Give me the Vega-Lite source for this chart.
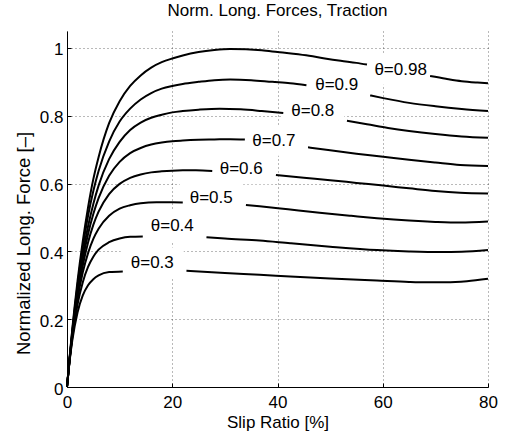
{
  "$schema": "https://vega.github.io/schema/vega-lite/v6.json",
  "width": 421,
  "height": 356,
  "autosize": {"type": "none"},
  "padding": {"left": 67, "top": 31, "right": 22, "bottom": 46},
  "background": "white",
  "title": {"text": "Norm. Long. Forces, Traction", "fontSize": 17, "fontWeight": "normal", "font": "Liberation Sans", "color": "black", "offset": 11, "anchor": "middle"},
  "config": {
    "font": "Liberation Sans",
    "view": {"stroke": null},
    "axis": {
      "domainColor": "black", "domainWidth": 1,
      "tickColor": "black", "tickWidth": 1, "tickSize": -4,
      "labelColor": "black", "labelFontSize": 17, "labelFont": "Liberation Sans",
      "titleColor": "black", "titleFontSize": 17, "titleFontWeight": "normal", "titleFont": "Liberation Sans",
      "grid": true, "gridColor": "#000000", "gridOpacity": 0.55, "gridDash": [1, 3], "gridWidth": 1,
      "labelFlush": false, "labelOverlap": false
    }
  },
  "datasets": {
    "curves": [
      {"curve": "0.98", "part": 1, "slip": 0, "force": 0},
      {"curve": "0.98", "part": 1, "slip": 0.5, "force": 0.088},
      {"curve": "0.98", "part": 1, "slip": 1, "force": 0.17},
      {"curve": "0.98", "part": 1, "slip": 2, "force": 0.312},
      {"curve": "0.98", "part": 1, "slip": 3, "force": 0.43},
      {"curve": "0.98", "part": 1, "slip": 4, "force": 0.53},
      {"curve": "0.98", "part": 1, "slip": 5, "force": 0.613},
      {"curve": "0.98", "part": 1, "slip": 6, "force": 0.678},
      {"curve": "0.98", "part": 1, "slip": 8, "force": 0.778},
      {"curve": "0.98", "part": 1, "slip": 10, "force": 0.843},
      {"curve": "0.98", "part": 1, "slip": 12, "force": 0.888},
      {"curve": "0.98", "part": 1, "slip": 14, "force": 0.919},
      {"curve": "0.98", "part": 1, "slip": 16, "force": 0.942},
      {"curve": "0.98", "part": 1, "slip": 18, "force": 0.958},
      {"curve": "0.98", "part": 1, "slip": 20, "force": 0.969},
      {"curve": "0.98", "part": 1, "slip": 22, "force": 0.978},
      {"curve": "0.98", "part": 1, "slip": 25, "force": 0.988},
      {"curve": "0.98", "part": 1, "slip": 28, "force": 0.994},
      {"curve": "0.98", "part": 1, "slip": 31, "force": 0.997},
      {"curve": "0.98", "part": 1, "slip": 34, "force": 0.996},
      {"curve": "0.98", "part": 1, "slip": 37, "force": 0.993},
      {"curve": "0.98", "part": 1, "slip": 40, "force": 0.988},
      {"curve": "0.98", "part": 1, "slip": 43, "force": 0.983},
      {"curve": "0.98", "part": 1, "slip": 46, "force": 0.977},
      {"curve": "0.98", "part": 1, "slip": 49, "force": 0.969},
      {"curve": "0.98", "part": 1, "slip": 52, "force": 0.962},
      {"curve": "0.98", "part": 1, "slip": 55, "force": 0.956},
      {"curve": "0.98", "part": 1, "slip": 57, "force": 0.951},
      {"curve": "0.98", "part": 2, "slip": 69, "force": 0.917},
      {"curve": "0.98", "part": 2, "slip": 72, "force": 0.909},
      {"curve": "0.98", "part": 2, "slip": 75, "force": 0.902},
      {"curve": "0.98", "part": 2, "slip": 78, "force": 0.898},
      {"curve": "0.98", "part": 2, "slip": 80, "force": 0.896},

      {"curve": "0.9", "part": 1, "slip": 0, "force": 0},
      {"curve": "0.9", "part": 1, "slip": 0.5, "force": 0.086},
      {"curve": "0.9", "part": 1, "slip": 1, "force": 0.165},
      {"curve": "0.9", "part": 1, "slip": 2, "force": 0.3},
      {"curve": "0.9", "part": 1, "slip": 3, "force": 0.413},
      {"curve": "0.9", "part": 1, "slip": 4, "force": 0.505},
      {"curve": "0.9", "part": 1, "slip": 5, "force": 0.578},
      {"curve": "0.9", "part": 1, "slip": 6, "force": 0.637},
      {"curve": "0.9", "part": 1, "slip": 8, "force": 0.724},
      {"curve": "0.9", "part": 1, "slip": 10, "force": 0.783},
      {"curve": "0.9", "part": 1, "slip": 12, "force": 0.821},
      {"curve": "0.9", "part": 1, "slip": 14, "force": 0.848},
      {"curve": "0.9", "part": 1, "slip": 16, "force": 0.867},
      {"curve": "0.9", "part": 1, "slip": 18, "force": 0.88},
      {"curve": "0.9", "part": 1, "slip": 20, "force": 0.888},
      {"curve": "0.9", "part": 1, "slip": 22, "force": 0.894},
      {"curve": "0.9", "part": 1, "slip": 25, "force": 0.9},
      {"curve": "0.9", "part": 1, "slip": 28, "force": 0.905},
      {"curve": "0.9", "part": 1, "slip": 31, "force": 0.907},
      {"curve": "0.9", "part": 1, "slip": 35, "force": 0.905},
      {"curve": "0.9", "part": 1, "slip": 39, "force": 0.9},
      {"curve": "0.9", "part": 1, "slip": 42.4, "force": 0.896},
      {"curve": "0.9", "part": 1, "slip": 45.5, "force": 0.89},
      {"curve": "0.9", "part": 2, "slip": 57.6, "force": 0.86},
      {"curve": "0.9", "part": 2, "slip": 60.1, "force": 0.852},
      {"curve": "0.9", "part": 2, "slip": 65, "force": 0.838},
      {"curve": "0.9", "part": 2, "slip": 70, "force": 0.828},
      {"curve": "0.9", "part": 2, "slip": 75, "force": 0.82},
      {"curve": "0.9", "part": 2, "slip": 80, "force": 0.814},

      {"curve": "0.8", "part": 1, "slip": 0, "force": 0},
      {"curve": "0.8", "part": 1, "slip": 0.5, "force": 0.084},
      {"curve": "0.8", "part": 1, "slip": 1, "force": 0.16},
      {"curve": "0.8", "part": 1, "slip": 2, "force": 0.288},
      {"curve": "0.8", "part": 1, "slip": 3, "force": 0.392},
      {"curve": "0.8", "part": 1, "slip": 4, "force": 0.474},
      {"curve": "0.8", "part": 1, "slip": 5, "force": 0.54},
      {"curve": "0.8", "part": 1, "slip": 6, "force": 0.594},
      {"curve": "0.8", "part": 1, "slip": 8, "force": 0.672},
      {"curve": "0.8", "part": 1, "slip": 10, "force": 0.723},
      {"curve": "0.8", "part": 1, "slip": 12, "force": 0.758},
      {"curve": "0.8", "part": 1, "slip": 14, "force": 0.78},
      {"curve": "0.8", "part": 1, "slip": 16, "force": 0.794},
      {"curve": "0.8", "part": 1, "slip": 18, "force": 0.803},
      {"curve": "0.8", "part": 1, "slip": 20, "force": 0.81},
      {"curve": "0.8", "part": 1, "slip": 22, "force": 0.814},
      {"curve": "0.8", "part": 1, "slip": 25, "force": 0.818},
      {"curve": "0.8", "part": 1, "slip": 29, "force": 0.821},
      {"curve": "0.8", "part": 1, "slip": 33, "force": 0.819},
      {"curve": "0.8", "part": 1, "slip": 37, "force": 0.814},
      {"curve": "0.8", "part": 1, "slip": 41.1, "force": 0.808},
      {"curve": "0.8", "part": 2, "slip": 53.2, "force": 0.785},
      {"curve": "0.8", "part": 2, "slip": 57, "force": 0.775},
      {"curve": "0.8", "part": 2, "slip": 61, "force": 0.764},
      {"curve": "0.8", "part": 2, "slip": 65, "force": 0.755},
      {"curve": "0.8", "part": 2, "slip": 70, "force": 0.746},
      {"curve": "0.8", "part": 2, "slip": 75, "force": 0.739},
      {"curve": "0.8", "part": 2, "slip": 80, "force": 0.735},

      {"curve": "0.7", "part": 1, "slip": 0, "force": 0},
      {"curve": "0.7", "part": 1, "slip": 0.5, "force": 0.083},
      {"curve": "0.7", "part": 1, "slip": 1, "force": 0.157},
      {"curve": "0.7", "part": 1, "slip": 2, "force": 0.281},
      {"curve": "0.7", "part": 1, "slip": 3, "force": 0.376},
      {"curve": "0.7", "part": 1, "slip": 4, "force": 0.451},
      {"curve": "0.7", "part": 1, "slip": 5, "force": 0.51},
      {"curve": "0.7", "part": 1, "slip": 6, "force": 0.557},
      {"curve": "0.7", "part": 1, "slip": 8, "force": 0.623},
      {"curve": "0.7", "part": 1, "slip": 10, "force": 0.664},
      {"curve": "0.7", "part": 1, "slip": 12, "force": 0.69},
      {"curve": "0.7", "part": 1, "slip": 14, "force": 0.705},
      {"curve": "0.7", "part": 1, "slip": 16, "force": 0.715},
      {"curve": "0.7", "part": 1, "slip": 18, "force": 0.721},
      {"curve": "0.7", "part": 1, "slip": 20, "force": 0.725},
      {"curve": "0.7", "part": 1, "slip": 22, "force": 0.727},
      {"curve": "0.7", "part": 1, "slip": 25, "force": 0.729},
      {"curve": "0.7", "part": 1, "slip": 28, "force": 0.73},
      {"curve": "0.7", "part": 1, "slip": 31, "force": 0.731},
      {"curve": "0.7", "part": 1, "slip": 33.8, "force": 0.73},
      {"curve": "0.7", "part": 2, "slip": 45.8, "force": 0.707},
      {"curve": "0.7", "part": 2, "slip": 50, "force": 0.698},
      {"curve": "0.7", "part": 2, "slip": 55, "force": 0.688},
      {"curve": "0.7", "part": 2, "slip": 60.1, "force": 0.679},
      {"curve": "0.7", "part": 2, "slip": 65, "force": 0.67},
      {"curve": "0.7", "part": 2, "slip": 70, "force": 0.662},
      {"curve": "0.7", "part": 2, "slip": 74.7, "force": 0.655},
      {"curve": "0.7", "part": 2, "slip": 80, "force": 0.652},

      {"curve": "0.6", "part": 1, "slip": 0, "force": 0},
      {"curve": "0.6", "part": 1, "slip": 0.5, "force": 0.082},
      {"curve": "0.6", "part": 1, "slip": 1, "force": 0.153},
      {"curve": "0.6", "part": 1, "slip": 2, "force": 0.27},
      {"curve": "0.6", "part": 1, "slip": 3, "force": 0.358},
      {"curve": "0.6", "part": 1, "slip": 4, "force": 0.426},
      {"curve": "0.6", "part": 1, "slip": 5, "force": 0.478},
      {"curve": "0.6", "part": 1, "slip": 6, "force": 0.517},
      {"curve": "0.6", "part": 1, "slip": 8, "force": 0.569},
      {"curve": "0.6", "part": 1, "slip": 10, "force": 0.599},
      {"curve": "0.6", "part": 1, "slip": 12, "force": 0.617},
      {"curve": "0.6", "part": 1, "slip": 14, "force": 0.627},
      {"curve": "0.6", "part": 1, "slip": 16, "force": 0.633},
      {"curve": "0.6", "part": 1, "slip": 18, "force": 0.636},
      {"curve": "0.6", "part": 1, "slip": 20, "force": 0.638},
      {"curve": "0.6", "part": 1, "slip": 22, "force": 0.639},
      {"curve": "0.6", "part": 1, "slip": 24.5, "force": 0.639},
      {"curve": "0.6", "part": 1, "slip": 27.6, "force": 0.637},
      {"curve": "0.6", "part": 2, "slip": 39.7, "force": 0.625},
      {"curve": "0.6", "part": 2, "slip": 45, "force": 0.617},
      {"curve": "0.6", "part": 2, "slip": 50, "force": 0.61},
      {"curve": "0.6", "part": 2, "slip": 55, "force": 0.602},
      {"curve": "0.6", "part": 2, "slip": 60.1, "force": 0.594},
      {"curve": "0.6", "part": 2, "slip": 65, "force": 0.586},
      {"curve": "0.6", "part": 2, "slip": 70, "force": 0.578},
      {"curve": "0.6", "part": 2, "slip": 74.7, "force": 0.573},
      {"curve": "0.6", "part": 2, "slip": 80, "force": 0.571},

      {"curve": "0.5", "part": 1, "slip": 0, "force": 0},
      {"curve": "0.5", "part": 1, "slip": 0.5, "force": 0.081},
      {"curve": "0.5", "part": 1, "slip": 1, "force": 0.15},
      {"curve": "0.5", "part": 1, "slip": 2, "force": 0.259},
      {"curve": "0.5", "part": 1, "slip": 3, "force": 0.338},
      {"curve": "0.5", "part": 1, "slip": 4, "force": 0.395},
      {"curve": "0.5", "part": 1, "slip": 5, "force": 0.437},
      {"curve": "0.5", "part": 1, "slip": 6, "force": 0.467},
      {"curve": "0.5", "part": 1, "slip": 8, "force": 0.505},
      {"curve": "0.5", "part": 1, "slip": 10, "force": 0.526},
      {"curve": "0.5", "part": 1, "slip": 12, "force": 0.536},
      {"curve": "0.5", "part": 1, "slip": 14, "force": 0.542},
      {"curve": "0.5", "part": 1, "slip": 17, "force": 0.545},
      {"curve": "0.5", "part": 1, "slip": 20, "force": 0.545},
      {"curve": "0.5", "part": 1, "slip": 22, "force": 0.544},
      {"curve": "0.5", "part": 2, "slip": 34, "force": 0.537},
      {"curve": "0.5", "part": 2, "slip": 36.6, "force": 0.533},
      {"curve": "0.5", "part": 2, "slip": 42, "force": 0.524},
      {"curve": "0.5", "part": 2, "slip": 48, "force": 0.514},
      {"curve": "0.5", "part": 2, "slip": 54, "force": 0.505},
      {"curve": "0.5", "part": 2, "slip": 58.9, "force": 0.498},
      {"curve": "0.5", "part": 2, "slip": 65, "force": 0.491},
      {"curve": "0.5", "part": 2, "slip": 70, "force": 0.487},
      {"curve": "0.5", "part": 2, "slip": 74.7, "force": 0.485},
      {"curve": "0.5", "part": 2, "slip": 80, "force": 0.488},

      {"curve": "0.4", "part": 1, "slip": 0, "force": 0},
      {"curve": "0.4", "part": 1, "slip": 0.5, "force": 0.079},
      {"curve": "0.4", "part": 1, "slip": 1, "force": 0.145},
      {"curve": "0.4", "part": 1, "slip": 2, "force": 0.243},
      {"curve": "0.4", "part": 1, "slip": 3, "force": 0.309},
      {"curve": "0.4", "part": 1, "slip": 4, "force": 0.354},
      {"curve": "0.4", "part": 1, "slip": 5, "force": 0.384},
      {"curve": "0.4", "part": 1, "slip": 6, "force": 0.405},
      {"curve": "0.4", "part": 1, "slip": 8, "force": 0.427},
      {"curve": "0.4", "part": 1, "slip": 10, "force": 0.438},
      {"curve": "0.4", "part": 1, "slip": 12, "force": 0.443},
      {"curve": "0.4", "part": 1, "slip": 14.4, "force": 0.444},
      {"curve": "0.4", "part": 2, "slip": 26.5, "force": 0.442},
      {"curve": "0.4", "part": 2, "slip": 30, "force": 0.438},
      {"curve": "0.4", "part": 2, "slip": 36.6, "force": 0.432},
      {"curve": "0.4", "part": 2, "slip": 42.4, "force": 0.424},
      {"curve": "0.4", "part": 2, "slip": 50, "force": 0.414},
      {"curve": "0.4", "part": 2, "slip": 58.9, "force": 0.404},
      {"curve": "0.4", "part": 2, "slip": 65, "force": 0.4},
      {"curve": "0.4", "part": 2, "slip": 70.9, "force": 0.398},
      {"curve": "0.4", "part": 2, "slip": 75, "force": 0.399},
      {"curve": "0.4", "part": 2, "slip": 80, "force": 0.404},

      {"curve": "0.3", "part": 1, "slip": 0, "force": 0},
      {"curve": "0.3", "part": 1, "slip": 0.5, "force": 0.077},
      {"curve": "0.3", "part": 1, "slip": 1, "force": 0.137},
      {"curve": "0.3", "part": 1, "slip": 2, "force": 0.22},
      {"curve": "0.3", "part": 1, "slip": 3, "force": 0.27},
      {"curve": "0.3", "part": 1, "slip": 4, "force": 0.3},
      {"curve": "0.3", "part": 1, "slip": 5, "force": 0.318},
      {"curve": "0.3", "part": 1, "slip": 6, "force": 0.329},
      {"curve": "0.3", "part": 1, "slip": 8, "force": 0.339},
      {"curve": "0.3", "part": 1, "slip": 10.6, "force": 0.341},
      {"curve": "0.3", "part": 2, "slip": 22.7, "force": 0.343},
      {"curve": "0.3", "part": 2, "slip": 30, "force": 0.336},
      {"curve": "0.3", "part": 2, "slip": 36.6, "force": 0.331},
      {"curve": "0.3", "part": 2, "slip": 42.4, "force": 0.326},
      {"curve": "0.3", "part": 2, "slip": 50, "force": 0.32},
      {"curve": "0.3", "part": 2, "slip": 58.9, "force": 0.314},
      {"curve": "0.3", "part": 2, "slip": 65, "force": 0.31},
      {"curve": "0.3", "part": 2, "slip": 68.4, "force": 0.309},
      {"curve": "0.3", "part": 2, "slip": 72, "force": 0.309},
      {"curve": "0.3", "part": 2, "slip": 76, "force": 0.312},
      {"curve": "0.3", "part": 2, "slip": 80, "force": 0.319}
    ],
    "labels": [
      {"label": "θ=0.98", "x": 63.4, "y": 0.936},
      {"label": "θ=0.9", "x": 51.25, "y": 0.892},
      {"label": "θ=0.8", "x": 46.7, "y": 0.814},
      {"label": "θ=0.7", "x": 39.3, "y": 0.726},
      {"label": "θ=0.6", "x": 33.1, "y": 0.642},
      {"label": "θ=0.5", "x": 27.4, "y": 0.556},
      {"label": "θ=0.4", "x": 20.0, "y": 0.475},
      {"label": "θ=0.3", "x": 16.2, "y": 0.367}
    ]
  },
  "layer": [
    {
      "data": {"name": "labels"},
      "mark": {"type": "point", "shape": "M-1,-0.476H1V0.476H-1Z", "filled": true, "color": "white", "opacity": 1, "size": 3969, "strokeWidth": 0},
      "encoding": {
        "x": {"field": "x", "type": "quantitative", "title": "Slip Ratio [%]",
              "scale": {"domain": [0, 80], "nice": false},
              "axis": {"values": [0, 20, 40, 60, 80], "labelPadding": 11, "titlePadding": 4}},
        "y": {"field": "y", "type": "quantitative", "title": "Normalized Long. Force [–]",
              "scale": {"domain": [0, 1.05], "nice": false},
              "axis": {"values": [0, 0.2, 0.4, 0.6, 0.8, 1], "format": "~g", "labelPadding": 8, "labelOffset": 2, "titlePadding": 6, "titleFontSize": 18.5, "titleY": 212}}
      }
    },
    {
      "data": {"name": "curves"},
      "mark": {"type": "line", "color": "black", "strokeWidth": 2, "interpolate": "monotone"},
      "encoding": {
        "x": {"field": "slip", "type": "quantitative", "title": "Slip Ratio [%]"},
        "y": {"field": "force", "type": "quantitative", "title": "Normalized Long. Force [–]"},
        "detail": [{"field": "curve"}, {"field": "part"}]
      }
    },
    {
      "data": {"name": "labels"},
      "mark": {"type": "text", "fontSize": 17, "font": "Liberation Sans", "baseline": "middle", "align": "center", "color": "black"},
      "encoding": {
        "x": {"field": "x", "type": "quantitative", "title": "Slip Ratio [%]"},
        "y": {"field": "y", "type": "quantitative", "title": "Normalized Long. Force [–]"},
        "text": {"field": "label"}
      }
    }
  ]
}
